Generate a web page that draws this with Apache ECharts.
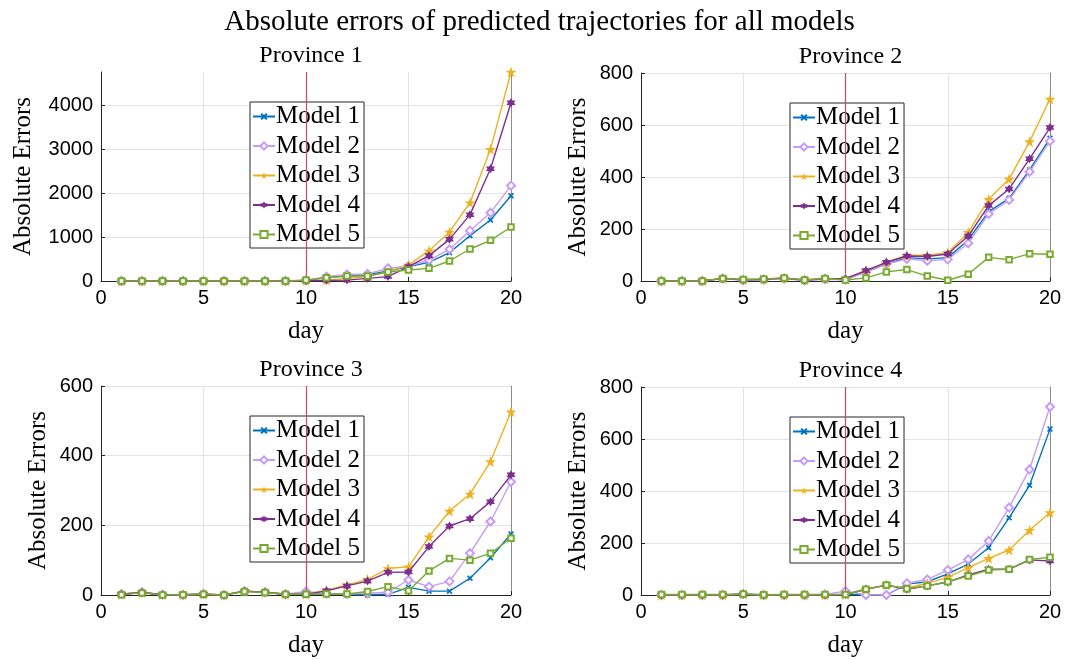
<!DOCTYPE html>
<html>
<head>
<meta charset="utf-8">
<script src="https://cdn.jsdelivr.net/npm/echarts@6.0.0/dist/echarts.min.js"></script>
<style>
  html, body { margin: 0; padding: 0; background: #fff; }
  #main { width: 1079px; height: 660px; }
</style>
</head>
<body>
<div id="main"></div>
<script>
var days = [1,2,3,4,5,6,7,8,9,10,11,12,13,14,15,16,17,18,19,20];
var modelNames = ['Model 1', 'Model 2', 'Model 3', 'Model 4', 'Model 5'];
var provinceNames = ['Province 1', 'Province 2', 'Province 3', 'Province 4'];
var splitDay = 10;

// Province 1
var p1_m1 = [0,0,0,0,0,0,0,0,0,10,83,114,136,227,326,424,644,1030,1386,1939];
var p1_m2 = [0,0,0,0,0,0,0,0,0,20,100,150,160,288,341,477,720,1144,1553,2167];
var p1_m3 = [0,0,0,0,0,0,0,0,0,10,20,60,100,212,364,689,1114,1780,2992,4750];
var p1_m4 = [0,0,0,0,0,0,0,0,0,5,15,20,60,100,326,576,947,1508,2553,4053];
var p1_m5 = [0,0,0,0,0,0,0,0,0,20,76,114,114,205,250,288,455,727,924,1227];
// Province 2
var p2_m1 = [0,0,0,10,4,6,10,3,8,6,36,65,90,85,90,158,267,318,427,549];
var p2_m2 = [0,0,0,9,3,5,9,2,7,5,33,65,85,78,83,145,258,312,420,538];
var p2_m3 = [0,0,0,10,5,7,11,4,9,10,40,72,99,99,109,187,314,392,536,700];
var p2_m4 = [0,0,0,10,5,7,11,4,9,9,40,72,96,94,104,173,290,354,470,590];
var p2_m5 = [0,0,0,10,6,8,12,4,10,4,12,35,44,19,3,26,91,82,105,103];
// Province 3
var p3_m1 = [2,7,0,1,2,0,11,8,2,2,2,2,0,2,22,11,11,48,107,175];
var p3_m2 = [3,8,1,0,3,0,11,8,2,10,4,3,5,8,43,24,39,120,211,325];
var p3_m3 = [2,7,1,1,2,0,11,8,2,2,14,29,45,76,81,167,241,290,383,526];
var p3_m4 = [2,7,1,1,2,0,11,8,2,2,12,26,40,65,66,139,198,219,268,345];
var p3_m5 = [1,6,0,1,2,0,10,7,2,2,3,3,10,24,12,69,105,100,120,163];
// Province 4
var p4_m1 = [0,0,0,0,2,0,0,0,0,2,0,0,42,51,81,119,182,297,422,638];
var p4_m2 = [0,0,0,0,4,0,0,0,2,15,0,0,45,60,96,137,208,336,483,724];
var p4_m3 = [0,0,0,0,3,0,0,0,0,2,22,38,26,45,68,105,141,173,249,317];
var p4_m4 = [0,0,0,0,3,0,0,0,0,2,22,38,22,35,50,77,99,99,135,131];
var p4_m5 = [2,2,2,2,4,1,2,2,2,2,22,38,24,35,51,73,96,99,137,145];

var yMax = [4750, 800, 600, 800];
var yStep = [1000, 200, 200, 200];

var provinces = [
  [p1_m1, p1_m2, p1_m3, p1_m4, p1_m5],
  [p2_m1, p2_m2, p2_m3, p2_m4, p2_m5],
  [p3_m1, p3_m2, p3_m3, p3_m4, p3_m5],
  [p4_m1, p4_m2, p4_m3, p4_m4, p4_m5]
];

var colors = ['#0072BD', '#C69CF6', '#EDB120', '#7E2F8E', '#77AC30'];
var xMark = 'path://M2,0L5,3L8,0L10,2L7,5L10,8L8,10L5,7L2,10L0,8L3,5L0,2Z';
var starMark = 'path://M10,0L12.25,6.91L19.51,6.91L13.63,11.18L15.88,18.09L10,13.82L4.12,18.09L6.37,11.18L0.49,6.91L7.75,6.91Z';
var hexMark = 'path://M10,0L12.89,5L18.66,5L15.77,10L18.66,15L12.89,15L10,20L7.11,15L1.34,15L4.23,10L1.34,5L7.11,5Z';
var symbols = [xMark, 'emptyDiamond', starMark, hexMark, 'emptyRect'];
var symbolSizes = [6, 8, 11, 9, 5.5];

var serif = '"Liberation Serif", "DejaVu Serif", serif';
var sans = '"Liberation Sans", Arial, sans-serif';

// grid boxes [left, top, width, height]
var boxes = [
  [101, 72, 410, 209],
  [641, 73, 409, 208],
  [101, 386, 410, 209],
  [641, 387, 409, 208]
];

var grids = [], xAxes = [], yAxes = [], series = [], titles = [], legends = [];

titles.push({
  text: 'Absolute errors of predicted trajectories for all models',
  left: 'center', top: 3,
  textStyle: { fontFamily: serif, fontSize: 29, fontWeight: 'normal', color: '#000' }
});

for (var p = 0; p < 4; p++) {
  var b = boxes[p];
  grids.push({ left: b[0], top: b[1], width: b[2], height: b[3], containLabel: false });

  titles.push({
    text: provinceNames[p],
    left: b[0] + b[2] / 2, top: b[1] - 33, textAlign: 'center',
    textStyle: { fontFamily: serif, fontSize: 24, fontWeight: 'normal', color: '#000' }
  });

  xAxes.push({
    type: 'value', gridIndex: p, min: 0, max: 20, interval: 5,
    name: 'day', nameLocation: 'middle', nameGap: 38,
    nameTextStyle: { fontFamily: serif, fontSize: 25, color: '#000' },
    axisLine: { lineStyle: { color: '#262626', width: 1 } },
    axisTick: { inside: true, length: 4, lineStyle: { color: '#262626' } },
    axisLabel: { fontFamily: sans, fontSize: 20, color: '#000', margin: 7 },
    splitLine: { show: true, lineStyle: { color: '#e3e3e3', width: 1 } }
  });

  yAxes.push({
    type: 'value', gridIndex: p, min: 0, max: yMax[p], interval: yStep[p],
    name: 'Absolute Errors', nameLocation: 'middle', nameRotate: 90,
    nameGap: p === 0 ? 65 : 50,
    nameTextStyle: { fontFamily: serif, fontSize: 25, color: '#000' },
    axisLine: { show: true, lineStyle: { color: '#262626', width: 1 } },
    axisTick: { show: true, inside: true, length: 4, lineStyle: { color: '#262626' } },
    axisLabel: {
      fontFamily: sans, fontSize: 20, color: '#000', margin: 8,
      showMaxLabel: yMax[p] % yStep[p] === 0,
      formatter: function (v) { return String(v); }
    },
    splitLine: { show: true, showMaxLine: yMax[p] % yStep[p] === 0, lineStyle: { color: '#e3e3e3', width: 1 } }
  });
  // right-hand box edge
  yAxes.push({
    type: 'value', gridIndex: p, min: 0, max: yMax[p], position: 'right',
    axisLine: { show: true, lineStyle: { color: '#8c8c8c', width: 1 } },
    axisTick: { show: false }, axisLabel: { show: false }, splitLine: { show: false }
  });

  legends.push({
    data: modelNames, orient: 'vertical',
    left: b[0] + 149, top: b[1] + 30,
    backgroundColor: '#fff', borderColor: '#262626', borderWidth: 1,
    padding: [2, 4, 1, 2], itemGap: 4.5, itemWidth: 22, itemHeight: 9,
    textStyle: { fontFamily: serif, fontSize: 25, color: '#000', padding: [0, 0, 0, -4], lineHeight: 24 }
  });

  for (var m = 0; m < 5; m++) {
    var s = {
      name: modelNames[m], type: 'line',
      xAxisIndex: p, yAxisIndex: p * 2,
      data: days.map(function (d, i) { return [d, provinces[p][m][i]]; }),
      color: colors[m],
      symbol: symbols[m], symbolSize: symbolSizes[m], showAllSymbol: true,
      lineStyle: { width: 1.4, color: colors[m] },
      itemStyle: { color: colors[m], borderColor: colors[m], borderWidth: m === 1 || m === 4 ? 1.2 : 0 },
      z: 3 + m
    };
    if (m === 0) {
      s.markLine = {
        silent: true, symbol: ['none', 'none'],
        label: { show: false },
        lineStyle: { color: '#c24d66', width: 1.2, type: 'solid' },
        data: [{ xAxis: splitDay }]
      };
    }
    series.push(s);
  }
}

var chart = echarts.init(document.getElementById('main'));
chart.setOption({
  animation: false,
  backgroundColor: '#fff',
  title: titles,
  legend: legends,
  grid: grids,
  xAxis: xAxes,
  yAxis: yAxes,
  series: series
});
</script>
</body>
</html>
